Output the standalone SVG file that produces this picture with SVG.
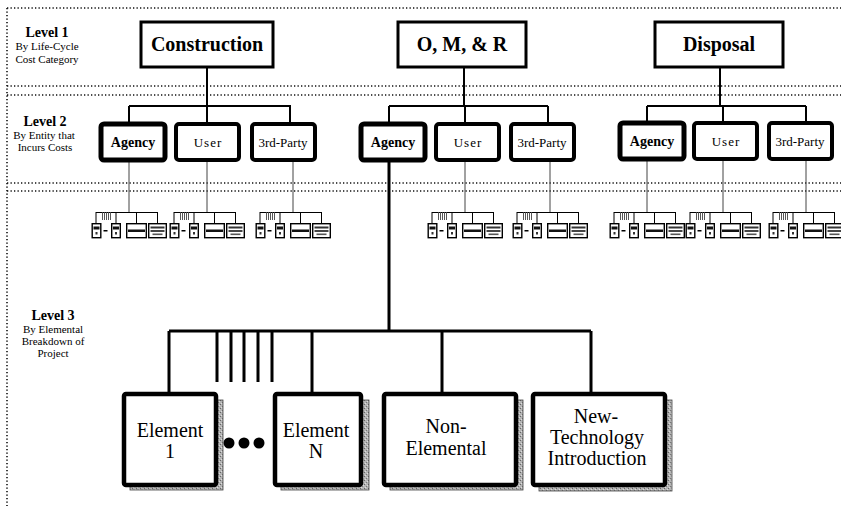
<svg xmlns="http://www.w3.org/2000/svg" width="841" height="506" viewBox="0 0 841 506">
  <style>
    text { font-family: "Liberation Serif", "DejaVu Serif", "Times New Roman", serif; fill: #000; }
    .lvl { font-size: 14px; font-weight: bold; text-anchor: middle; }
    .sub { font-size: 11px; text-anchor: middle; }
    .top { font-size: 20px; font-weight: bold; text-anchor: middle; }
    .mid { font-size: 13px; text-anchor: middle; }
    .midb { font-size: 14px; font-weight: bold; text-anchor: middle; }
    .big { font-size: 20px; text-anchor: middle; }
    .dot { stroke: #111; stroke-width: 1.6; stroke-dasharray: 1.3 2.2; fill: none; }
    .box1 { fill: #fff; stroke: #000; stroke-width: 3; }
    .box2 { fill: #fff; stroke: #000; stroke-width: 4; }
    .box2a { fill: #fff; stroke: #000; stroke-width: 5; }
    .box3 { fill: #fff; stroke: #000; stroke-width: 4.5; }
    .shadow { fill: url(#grain); stroke: #444; stroke-width: 0.8; }
    .thin { stroke: #444; stroke-width: 1; fill: none; }
    .heavy { stroke: #000; stroke-width: 3; fill: none; }
    .med { stroke: #000; stroke-width: 2; fill: none; }
    .mbox { fill: #fff; stroke: #000; stroke-width: 1.4; }
  </style>
  <defs>
    <pattern id="grain" width="4" height="4" patternUnits="userSpaceOnUse">
      <rect width="4" height="4" fill="#b4b4b4"/>
      <rect x="0" y="0" width="1" height="1" fill="#666"/>
      <rect x="2" y="2" width="1" height="1" fill="#777"/>
      <rect x="3" y="1" width="1" height="1" fill="#ddd"/>
      <rect x="1" y="3" width="1" height="1" fill="#ddd"/>
    </pattern>
    <!-- miniature breakdown chart repeated under each entity box -->
    <g id="mini">
      <path d="M4.5 212.5H66M4.5 212V223M24.5 212V223M45 212V223M66 212V223" stroke="#000" stroke-width="1" fill="none"/>
      <path d="M11 212v8M13 212v8M15 212v8M17 212v8M19 212v8" stroke="#444" stroke-width="0.9"/>
      <rect class="mbox" x="0.7" y="223.7" width="8.6" height="14"/>
      <rect x="2" y="226.5" width="6" height="3" fill="#111"/>
      <rect x="4" y="232" width="2" height="2.5" fill="#333"/>
      <rect x="12" y="230" width="4" height="1.5" fill="#000"/>
      <rect class="mbox" x="20.2" y="223.7" width="8.6" height="14"/>
      <rect x="21.5" y="226.5" width="6" height="3" fill="#111"/>
      <rect x="23.5" y="232" width="2" height="2.5" fill="#333"/>
      <rect class="mbox" x="35.2" y="223.7" width="19.6" height="14"/>
      <rect x="36.5" y="229.5" width="17" height="2.5" fill="#111"/>
      <rect class="mbox" x="57.2" y="223.7" width="17.6" height="14"/>
      <rect x="59" y="226.5" width="14" height="2" fill="#333"/>
      <rect x="59" y="230" width="14" height="2" fill="#444"/>
      <rect x="61" y="233.5" width="10" height="1.6" fill="#555"/>
    </g>
  </defs>

  <rect width="841" height="506" fill="#fff"/>

  <!-- level bands -->
  <g id="bands">
    <path class="dot" d="M7 8H841M7 86H841M7 95H841M7 183H841M7 191H841M7 8V506"/>
  </g>

  <!-- level captions -->
  <g id="captions">
    <text class="lvl" x="47" y="37">Level 1</text>
    <text class="sub" x="47" y="50">By Life-Cycle</text>
    <text class="sub" x="47" y="63">Cost Category</text>
    <text class="lvl" x="45" y="126">Level 2</text>
    <text class="sub" x="44" y="139">By Entity that</text>
    <text class="sub" x="45" y="151">Incurs Costs</text>
    <text class="lvl" x="53" y="320">Level 3</text>
    <text class="sub" x="53" y="333">By Elemental</text>
    <text class="sub" x="53" y="345">Breakdown of</text>
    <text class="sub" x="53" y="357">Project</text>
  </g>

  <!-- connectors -->
  <g id="connectors">
    <!-- level 1 to level 2 -->
    <path class="med" d="M207 67V106M129 106H291M129 106V122M207 106V122M290 106V122"/>
    <path class="med" d="M464 67V106M389 106H548M389 106V122M465 106V122M548 106V122"/>
    <path class="med" d="M720 67V106M647 106H806M647 106V122M723 106V122M806 106V122"/>
    <!-- level 2 to miniature charts -->
    <path class="thin" d="M129 161V212M207 161V212M293 161V212M465 161V212M550 161V212M647 161V212M723 161V212M806 161V212"/>
    <!-- expanded breakdown under O, M, & R agency -->
    <path class="heavy" d="M389 161V331M169 331H591M169 331V393M312 331V393M442 331V393M591 331V393"/>
    <path class="heavy" d="M217 331V382M231 331V382M244 331V382M258 331V382M272 331V382"/>
  </g>

  <!-- miniature charts -->
  <g id="minis">
    <use href="#mini" x="91.5"/>
    <use href="#mini" x="169.5"/>
    <use href="#mini" x="255.5"/>
    <use href="#mini" x="427.5"/>
    <use href="#mini" x="512.5"/>
    <use href="#mini" x="609.5"/>
    <use href="#mini" x="685.5"/>
    <use href="#mini" x="768.5"/>
  </g>

  <!-- level 1 nodes -->
  <g id="construction">
    <rect class="box1" x="141" y="22" width="132" height="45"/>
    <text class="top" x="207" y="51">Construction</text>
  </g>
  <g id="omr">
    <rect class="box1" x="398" y="22" width="128" height="45"/>
    <text class="top" x="462" y="51">O, M, &amp; R</text>
  </g>
  <g id="disposal">
    <rect class="box1" x="655" y="22" width="128" height="45"/>
    <text class="top" x="719" y="51">Disposal</text>
  </g>

  <!-- level 2 nodes -->
  <g id="c-agency">
    <rect class="box2a" x="101" y="124" width="64" height="36" rx="3"/>
    <text class="midb" x="133" y="147">Agency</text>
  </g>
  <g id="c-user">
    <rect class="box2" x="176" y="124" width="63" height="36" rx="3"/>
    <text class="mid" x="208" y="147" letter-spacing="1">User</text>
  </g>
  <g id="c-third">
    <rect class="box2" x="252" y="124" width="63" height="36" rx="3"/>
    <text class="mid" x="283" y="147">3rd-Party</text>
  </g>
  <g id="o-agency">
    <rect class="box2a" x="361" y="124" width="64" height="36" rx="3"/>
    <text class="midb" x="393" y="147">Agency</text>
  </g>
  <g id="o-user">
    <rect class="box2" x="436" y="124" width="63" height="36" rx="3"/>
    <text class="mid" x="468" y="147" letter-spacing="1">User</text>
  </g>
  <g id="o-third">
    <rect class="box2" x="511" y="124" width="63" height="36" rx="3"/>
    <text class="mid" x="542" y="147">3rd-Party</text>
  </g>
  <g id="d-agency">
    <rect class="box2a" x="620" y="123" width="64" height="36" rx="3"/>
    <text class="midb" x="652" y="146">Agency</text>
  </g>
  <g id="d-user">
    <rect class="box2" x="694" y="123" width="63" height="36" rx="3"/>
    <text class="mid" x="726" y="146" letter-spacing="1">User</text>
  </g>
  <g id="d-third">
    <rect class="box2" x="769" y="123" width="63" height="36" rx="3"/>
    <text class="mid" x="800" y="146">3rd-Party</text>
  </g>

  <!-- level 3 nodes -->
  <g id="element-1">
    <rect class="shadow" x="130" y="400" width="93" height="90"/>
    <rect class="box3" x="124" y="394" width="92" height="91" rx="2"/>
    <text class="big" x="170" y="437">Element</text>
    <text class="big" x="170" y="458">1</text>
  </g>
  <g id="ellipsis">
    <circle cx="229" cy="443" r="5.5"/>
    <circle cx="244" cy="443" r="5.5"/>
    <circle cx="259" cy="443" r="5.5"/>
  </g>
  <g id="element-n">
    <rect class="shadow" x="281" y="400" width="88" height="90"/>
    <rect class="box3" x="275" y="394" width="86" height="91" rx="2"/>
    <text class="big" x="316" y="437">Element</text>
    <text class="big" x="316" y="458">N</text>
  </g>
  <g id="non-elemental">
    <rect class="shadow" x="390" y="400" width="133" height="90"/>
    <rect class="box3" x="384" y="394" width="132" height="91" rx="2"/>
    <text class="big" x="446" y="433">Non-</text>
    <text class="big" x="446" y="455">Elemental</text>
  </g>
  <g id="new-technology">
    <rect class="shadow" x="539" y="400" width="133" height="91"/>
    <rect class="box3" x="533" y="394" width="132" height="91" rx="2"/>
    <text class="big" x="596" y="423">New-</text>
    <text class="big" x="597" y="444">Technology</text>
    <text class="big" x="597" y="465">Introduction</text>
  </g>
</svg>
